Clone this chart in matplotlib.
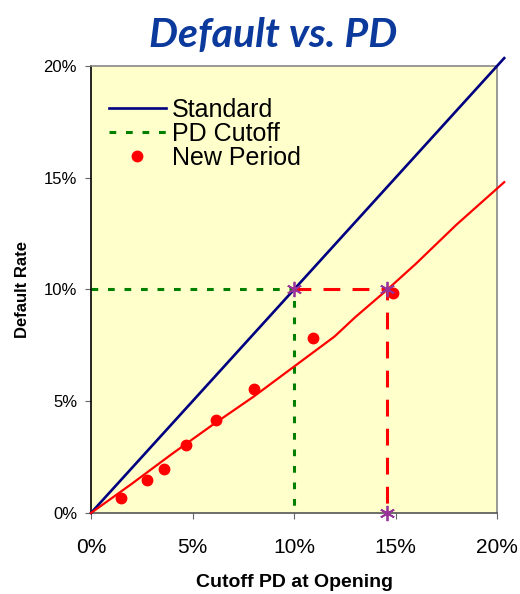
import numpy as np
import matplotlib
matplotlib.use("Agg")
import matplotlib.pyplot as plt
from matplotlib.ticker import FuncFormatter

plt.rcParams['font.family'] = ['Liberation Sans', 'DejaVu Sans']

# curvas (en %)
std_x = [0, 2.5, 5, 7.5, 10, 12.5, 15, 17.5, 20.35]
std_y = [0, 2.5, 5, 7.5, 10, 12.5, 15, 17.5, 20.35]

red_x = [0, 2, 4, 6, 8, 10, 12, 13, 14.6, 16, 18, 20.35]
red_y = [0, 1.3, 2.65, 3.95, 5.2, 6.55, 7.9, 8.75, 10.0, 11.15, 12.9, 14.8]

nuevo_x = [1.48, 2.74, 3.58, 4.70, 6.14, 8.03, 10.95, 14.85]
nuevo_y = [0.66, 1.48, 1.96, 3.04, 4.17, 5.56, 7.83, 9.82]

corte_std = 10.0
corte_nuevo = 14.6
tasa_obj = 10.0

ticks = [0, 5, 10, 15, 20]

fig = plt.figure(figsize=(5.2, 5.94), dpi=100)
ax = fig.add_axes([0.175, 0.1364, 0.781, 0.7526])
ax.set_facecolor('#FFFFCC')

ax.plot(std_x, std_y, color='#000080', lw=1.9, label='Standard', clip_on=False, zorder=3)
ax.plot([0, corte_std, corte_std], [tasa_obj, tasa_obj, 0], color='#008000', lw=2.2,
        dashes=(2.2, 3.2), label='PD Cutoff', zorder=2)
ax.plot(nuevo_x, nuevo_y, 'o', color='#FF0000', ms=7.5, label='New Period', zorder=4)
ax.plot(red_x, red_y, color='#FF0000', lw=1.6, clip_on=False, zorder=3)
ax.plot([corte_std, corte_nuevo, corte_nuevo], [tasa_obj, tasa_obj, 0], color='#FF0000',
        lw=2.2, dashes=(5.5, 4), zorder=2)
ax.plot([corte_std, corte_nuevo, corte_nuevo], [tasa_obj, tasa_obj, 0], ls='none',
        marker=(6, 2, 0), ms=11, mew=1.3, color='#993399', clip_on=False, zorder=5)

ax.set_xlim(0, 20)
ax.set_ylim(0, 20)
ax.set_xticks(ticks)
ax.set_yticks(ticks)
pct = FuncFormatter(lambda v, p: f'{v:.0f}%')
ax.xaxis.set_major_formatter(pct)
ax.yaxis.set_major_formatter(pct)
ax.tick_params(axis='x', labelsize=15, pad=14, length=4, color='#666666', direction='out')
ax.tick_params(axis='y', labelsize=12, pad=6, length=4, color='#666666', direction='out')

ax.spines['left'].set_color('black')
ax.spines['bottom'].set_color('#555555')
ax.spines['top'].set_color('#888888')
ax.spines['right'].set_color('#888888')
for s in ax.spines.values():
    s.set_linewidth(1.2)

ax.set_xlabel('Cutoff PD at Opening', fontsize=14, fontweight='bold', labelpad=12)
ax.set_ylabel('Default Rate', fontsize=12, fontweight='bold', labelpad=10)

fig.text(273 / 520, 1 - 35 / 594, 'Default vs. PD', ha='center', va='center',
         fontsize=29.5, fontweight='bold', fontstyle='italic', color='#0B3A9C',
         family=['Lato', 'DejaVu Sans'])

leg = ax.legend(loc='upper left', bbox_to_anchor=(0.0, 0.968), frameon=False, fontsize=18,
                handlelength=2.3, handletextpad=0.25, labelspacing=0.0, borderaxespad=0.3)

fig.savefig('out.png', dpi=100)
